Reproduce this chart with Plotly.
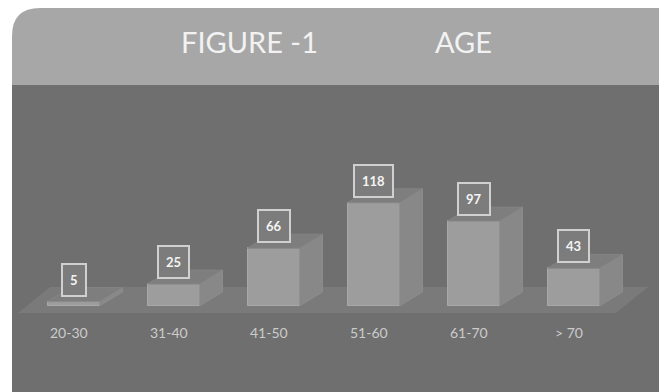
import plotly.graph_objects as go

categories = ["20-30", "31-40", "41-50", "51-60", "61-70", "> 70"]
values = [5, 25, 66, 118, 97, 43]
title_left = "FIGURE -1"
title_right = "AGE"

W, H = 659, 392
FONT = "Lato"

BG_PANEL = "#6f6f6f"
BG_HEADER = "#a7a7a7"
FRONT = "#9d9d9d"
SIDE = "#888888"
TOP = "#7e7e7e"
FLOOR = "#7a7a7a"

xs = list(range(len(categories)))
bw = 0.52      # bar width in category units
dx = 0.23      # depth offset (x, category units)
dy = 16.0      # depth offset (y, value units)

fig = go.Figure()
fig.add_trace(go.Bar(
    x=xs, y=values, width=bw,
    marker=dict(color=FRONT, line=dict(color="#a8a8a8", width=1)),
    hoverinfo="skip", showlegend=False,
))

shapes = []
px = lambda v: v / W
py = lambda v: 1 - v / H
left, top, hb, r = 12, 8, 85, 28
shapes.append(dict(
    type="path", xref="paper", yref="paper", layer="below",
    path=(f"M {px(left)},{py(hb)} L {px(left)},{py(top + r)} "
          f"Q {px(left)},{py(top)} {px(left + r)},{py(top)} "
          f"L 1,{py(top)} L 1,{py(hb)} Z"),
    fillcolor=BG_HEADER, line=dict(width=0)))
shapes.append(dict(
    type="rect", xref="paper", yref="paper", layer="below",
    x0=px(left), x1=1, y0=0, y1=py(hb),
    fillcolor=BG_PANEL, line=dict(width=0)))
shapes.append(dict(
    type="path", xref="x", yref="y", layer="below",
    path="M -0.555,-8 L -0.235,21.7 L 5.745,21.7 L 5.425,-8 Z",
    fillcolor=FLOOR, line=dict(width=0)))

for x, v in zip(xs, values):
    xr = x + bw / 2
    xl = x - bw / 2
    shapes.append(dict(
        type="path", xref="x", yref="y", layer="above",
        path=f"M {xr},0 L {xr+dx},{dy} L {xr+dx},{v+dy} L {xr},{v} Z",
        fillcolor=SIDE, line=dict(color="#8f8f8f", width=0.8)))
    shapes.append(dict(
        type="path", xref="x", yref="y", layer="above",
        path=f"M {xl},{v} L {xr},{v} L {xr+dx},{v+dy} L {xl+dx},{v+dy} Z",
        fillcolor=TOP, line=dict(color="#868686", width=0.8)))

annotations = []
for x, v in zip(xs, values):
    annotations.append(dict(
        x=x, y=v, xref="x", yref="y", text=f"<b>{v}</b>",
        showarrow=False, yanchor="bottom", xanchor="center", yshift=5,
        font=dict(family=FONT, size=13, color="#f4f4f4"),
        bgcolor="#7c7c7c", bordercolor="#d0d0d0", borderwidth=2, borderpad=7))
for x, c in zip(xs, categories):
    annotations.append(dict(
        x=x, y=-30.3, xref="x", yref="y", text=c, xshift=-5,
        xanchor="center", yanchor="middle",
        showarrow=False, font=dict(family=FONT, size=14, color="#cbcbcb")))
annotations.append(dict(
    x=249.5 / W, y=py(42), xref="paper", yref="paper", text=title_left,
    xanchor="center", yanchor="middle",
    showarrow=False, font=dict(family=FONT, size=29, color="#f2f2f2")))
annotations.append(dict(
    x=463.5 / W, y=py(42), xref="paper", yref="paper", text=title_right,
    xanchor="center", yanchor="middle",
    showarrow=False, font=dict(family=FONT, size=29, color="#f2f2f2")))

fig.update_layout(
    width=W, height=H, margin=dict(l=0, r=0, t=0, b=0),
    paper_bgcolor="white", plot_bgcolor="rgba(0,0,0,0)",
    xaxis=dict(visible=False, range=[-0.735, 5.855], fixedrange=True),
    yaxis=dict(visible=False, range=[-98.3, 349.7], fixedrange=True),
    shapes=shapes, annotations=annotations, showlegend=False,
    bargap=0,
)

fig.write_html("out.html")
